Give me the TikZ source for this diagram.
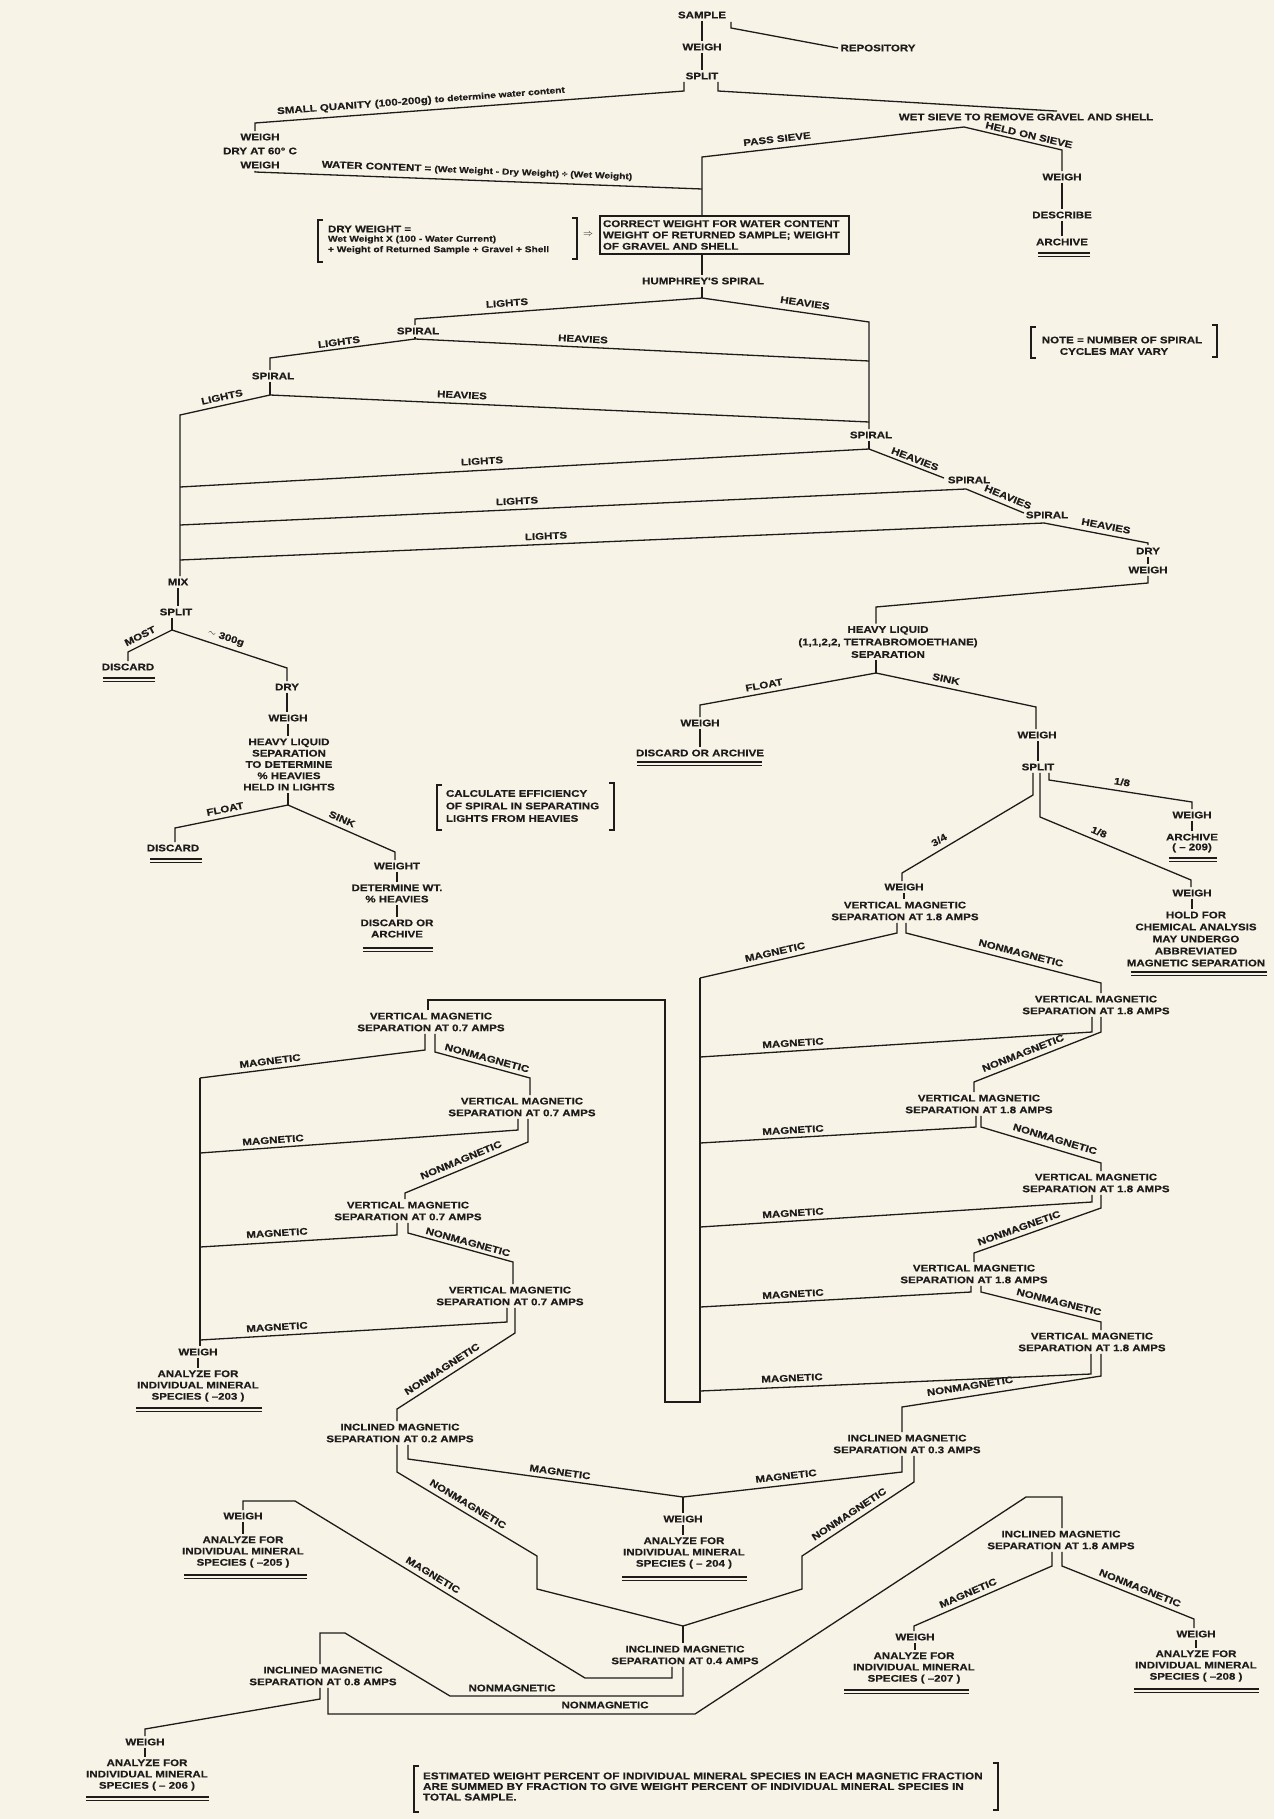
\documentclass[tikz,border=0pt]{standalone}
\usepackage{fontspec}
\newfontfamily\labf{Liberation Sans}[FakeStretch=1.2, BoldFeatures={FakeBold=0.4}]
\definecolor{ink}{HTML}{1E1C1B}
\definecolor{paper}{HTML}{F7F3E7}
\tikzset{
  lab/.style={font=\labf\bfseries\fontsize{9.6}{11.3}\selectfont, text=ink, inner sep=0pt, outer sep=2.5pt, align=center},
  sm/.style={font=\labf\bfseries\fontsize{8.5}{10}\selectfont, text=ink, inner sep=0pt, outer sep=0pt},
  ln/.style={draw=ink, line width=1.3pt},
  ul/.style={draw=ink, line width=1.1pt},
}
\newcommand\dblul[3]{\draw[ul] (#1,#3) -- (#2,#3) (#1,#3+3.6) -- (#2,#3+3.6);}
\newcommand\smf{\fontsize{8.5}{10}\selectfont}
\begin{document}
\begin{tikzpicture}[x=1pt,y=-1pt]
\fill[paper] (0,0) rectangle (1274,1819);
\useasboundingbox (0,0) rectangle (1274,1819);

%================ NODES ================
% top
\node[lab] (sample) at (702,15) {SAMPLE};
\node[lab] (weigh0) at (702,47) {WEIGH};
\node[lab] (split0) at (702,76) {SPLIT};
\node[lab] (repo) at (878,48) {REPOSITORY};
\node[lab, rotate=4.3] (smq) at (421,101) {SMALL QUANITY (100-200g) {\smf to determine water content}};
\node[lab] (wdw) at (260,151) {WEIGH\\[2.7pt]DRY AT 60° C\\[2.7pt]WEIGH};
\node[lab, rotate=-2.2] (wct) at (477,171) {WATER CONTENT = {\smf (Wet Weight - Dry Weight) ÷ (Wet Weight)}};
\node[lab] (wetsieve) at (1026,117) {WET SIEVE TO REMOVE GRAVEL AND SHELL};
\node[lab, rotate=6.5] (tps) at (777,139) {PASS SIEVE};
\node[lab, rotate=-13.2] (ths) at (1029,135) {HELD ON SIEVE};
\node[lab] (weighH) at (1062,177) {WEIGH};
\node[lab] (describe) at (1062,215) {DESCRIBE};
\node[lab] (archH) at (1062,242) {ARCHIVE};
\node[lab, outer sep=0pt, anchor=west] (dw1) at (328,229) {DRY WEIGHT =};
\node[sm, anchor=west] (dw2) at (328,239.5) {Wet Weight X (100 - Water Current)};
\node[sm, anchor=west] (dw3) at (328,250) {+ Weight of Returned Sample + Gravel + Shell};
\node[lab] (arr) at (588,235) {$\Rightarrow$};
\node[lab, draw=ink, line width=1.3pt, outer sep=0pt, inner sep=3pt, text width=243pt, align=left, minimum height=38pt] (cw) at (724.5,235) {CORRECT WEIGHT FOR WATER CONTENT\\WEIGHT OF RETURNED SAMPLE; WEIGHT\\OF GRAVEL AND SHELL};
\node[lab] (hum) at (703,281) {HUMPHREY'S SPIRAL};
% spirals
\node[lab] (sp1) at (418,331) {SPIRAL};
\node[lab] (sp2) at (273,376) {SPIRAL};
\node[lab] (sp3) at (871,435) {SPIRAL};
\node[lab] (sp4) at (969,480) {SPIRAL};
\node[lab] (sp5) at (1047,515) {SPIRAL};
\node[lab, rotate=4.2] (t1) at (507,303) {LIGHTS};
\node[lab, rotate=-8.2] (t2) at (805,303) {HEAVIES};
\node[lab, rotate=7.5] (t3) at (339,342) {LIGHTS};
\node[lab, rotate=-2.8] (t4) at (583,339) {HEAVIES};
\node[lab, rotate=-2.6] (t5) at (462,395) {HEAVIES};
\node[lab, rotate=12.5] (t6) at (222,397) {LIGHTS};
\node[lab, rotate=3.2] (t7) at (482,461) {LIGHTS};
\node[lab, rotate=-21.1] (t8) at (915,459) {HEAVIES};
\node[lab, rotate=2.6] (t9) at (517,501) {LIGHTS};
\node[lab, rotate=-22.5] (t10) at (1008,497) {HEAVIES};
\node[lab, rotate=2.5] (t11) at (546,536) {LIGHTS};
\node[lab, rotate=-10.9] (t12) at (1106,526) {HEAVIES};
\node[lab] (note) at (1122,340) {NOTE = NUMBER OF SPIRAL};
\node[lab] (note2) at (1114,351.5) {CYCLES MAY VARY};
\node[lab] (dry) at (1148,551) {DRY};
\node[lab] (weighD) at (1148,570) {WEIGH};
% heavy liquid right
\node[lab] (hlq) at (888,642) {HEAVY LIQUID\\[1.2pt](1,1,2,2, TETRABROMOETHANE)\\[1.2pt]SEPARATION};
\node[lab, rotate=10.3] (t13) at (764,685) {FLOAT};
\node[lab, rotate=-12.1] (t14) at (946,679) {SINK};
\node[lab] (weighF) at (700,723) {WEIGH};
\node[lab] (doa) at (700,753) {DISCARD OR ARCHIVE};
\node[lab] (weighS) at (1037,735) {WEIGH};
\node[lab] (split2) at (1038,767) {SPLIT};
\node[lab, rotate=30.6] (t15) at (939,840) {3/4};
\node[lab, rotate=-22.5] (t16) at (1099,832) {1/8};
\node[lab, rotate=-8.7] (t17) at (1122,782) {1/8};
\node[lab] (weighA) at (1192,815) {WEIGH};
\node[lab] (archA) at (1192,843) {ARCHIVE\\[-1.5pt]( – 209)};
\node[lab] (weighHo) at (1192,893) {WEIGH};
\node[lab] (hold) at (1196,939) {HOLD FOR\\[0.7pt]CHEMICAL ANALYSIS\\[0.7pt]MAY UNDERGO\\[0.7pt]ABBREVIATED\\[0.7pt]MAGNETIC SEPARATION};
\node[lab] (weighV) at (904,887) {WEIGH};
% vertical 1.8 chain
\node[lab] (vm1) at (905,911) {VERTICAL MAGNETIC\\[0.5pt]SEPARATION AT 1.8 AMPS};
\node[lab] (vm2) at (1096,1005) {VERTICAL MAGNETIC\\[0.5pt]SEPARATION AT 1.8 AMPS};
\node[lab] (vm3) at (979,1104) {VERTICAL MAGNETIC\\[0.5pt]SEPARATION AT 1.8 AMPS};
\node[lab] (vm4) at (1096,1183) {VERTICAL MAGNETIC\\[0.5pt]SEPARATION AT 1.8 AMPS};
\node[lab] (vm5) at (974,1274) {VERTICAL MAGNETIC\\[0.5pt]SEPARATION AT 1.8 AMPS};
\node[lab] (vm6) at (1092,1342) {VERTICAL MAGNETIC\\[0.5pt]SEPARATION AT 1.8 AMPS};
\node[lab, rotate=12.9] (t18) at (775,952) {MAGNETIC};
\node[lab, rotate=-14.4] (t19) at (1021,953) {NONMAGNETIC};
\node[lab, rotate=3.6] (t20) at (793,1043) {MAGNETIC};
\node[lab, rotate=21.5] (t21) at (1023,1053) {NONMAGNETIC};
\node[lab, rotate=3.3] (t22) at (793,1130) {MAGNETIC};
\node[lab, rotate=-16.7] (t23) at (1055,1139) {NONMAGNETIC};
\node[lab, rotate=3.6] (t24) at (793,1213) {MAGNETIC};
\node[lab, rotate=19.5] (t25) at (1019,1228) {NONMAGNETIC};
\node[lab, rotate=3.2] (t26) at (793,1294) {MAGNETIC};
\node[lab, rotate=-14] (t27) at (1059,1302) {NONMAGNETIC};
\node[lab, rotate=2.5] (t28) at (792,1378) {MAGNETIC};
\node[lab, rotate=8.9] (t29) at (970,1386) {NONMAGNETIC};
% vertical 0.7 chain
\node[lab] (va) at (431,1022) {VERTICAL MAGNETIC\\[0.5pt]SEPARATION AT 0.7 AMPS};
\node[lab] (vb) at (522,1107) {VERTICAL MAGNETIC\\[0.5pt]SEPARATION AT 0.7 AMPS};
\node[lab] (vc) at (408,1211) {VERTICAL MAGNETIC\\[0.5pt]SEPARATION AT 0.7 AMPS};
\node[lab] (vd) at (510,1296) {VERTICAL MAGNETIC\\[0.5pt]SEPARATION AT 0.7 AMPS};
\node[lab, rotate=7.1] (t30) at (270,1061) {MAGNETIC};
\node[lab, rotate=-15.3] (t31) at (487,1058) {NONMAGNETIC};
\node[lab, rotate=4.1] (t32) at (273,1140) {MAGNETIC};
\node[lab, rotate=22.5] (t33) at (461,1160) {NONMAGNETIC};
\node[lab, rotate=3.5] (t34) at (277,1233) {MAGNETIC};
\node[lab, rotate=-15.4] (t35) at (468,1242) {NONMAGNETIC};
\node[lab, rotate=3.4] (t36) at (277,1327) {MAGNETIC};
\node[lab, rotate=32.8] (t37) at (442,1369) {NONMAGNETIC};
\node[lab] (weighL) at (198,1352) {WEIGH};
\node[lab] (an203) at (198,1386) {ANALYZE FOR\\INDIVIDUAL MINERAL\\SPECIES ( –203 )};
% inclined
\node[lab] (inc2) at (400,1433) {INCLINED MAGNETIC\\[0.5pt]SEPARATION AT 0.2 AMPS};
\node[lab] (inc3) at (907,1444) {INCLINED MAGNETIC\\[0.5pt]SEPARATION AT 0.3 AMPS};
\node[lab, rotate=-7.9] (t38) at (560,1472) {MAGNETIC};
\node[lab, rotate=-31] (t39) at (468,1504) {NONMAGNETIC};
\node[lab, rotate=6.5] (t40) at (786,1476) {MAGNETIC};
\node[lab, rotate=33.5] (t41) at (849,1514) {NONMAGNETIC};
\node[lab] (weigh204) at (683,1519) {WEIGH};
\node[lab] (an204) at (684,1553) {ANALYZE FOR\\INDIVIDUAL MINERAL\\SPECIES ( – 204 )};
\node[lab] (inc4) at (685,1655) {INCLINED MAGNETIC\\[0.5pt]SEPARATION AT 0.4 AMPS};
\node[lab, rotate=-31.4] (t42) at (433,1575) {MAGNETIC};
\node[lab] (t43) at (512,1688) {NONMAGNETIC};
\node[lab] (weigh205) at (243,1516) {WEIGH};
\node[lab] (an205) at (243,1552) {ANALYZE FOR\\INDIVIDUAL MINERAL\\SPECIES ( –205 )};
\node[lab] (inc8) at (323,1676) {INCLINED MAGNETIC\\[0.5pt]SEPARATION AT 0.8 AMPS};
\node[lab] (t44) at (605,1705) {NONMAGNETIC};
\node[lab] (weigh206) at (145,1742) {WEIGH};
\node[lab] (an206) at (147,1775) {ANALYZE FOR\\INDIVIDUAL MINERAL\\SPECIES ( – 206 )};
\node[lab] (inc18) at (1061,1540) {INCLINED MAGNETIC\\[0.5pt]SEPARATION AT 1.8 AMPS};
\node[lab, rotate=23.5] (t45) at (968,1593) {MAGNETIC};
\node[lab, rotate=-21.9] (t46) at (1140,1588) {NONMAGNETIC};
\node[lab] (weigh207) at (915,1637) {WEIGH};
\node[lab] (an207) at (914,1668) {ANALYZE FOR\\INDIVIDUAL MINERAL\\SPECIES ( –207 )};
\node[lab] (weigh208) at (1196,1634) {WEIGH};
\node[lab] (an208) at (1196,1666) {ANALYZE FOR\\INDIVIDUAL MINERAL\\SPECIES ( –208 )};
% left mid section
\node[lab] (mix) at (178,582) {MIX};
\node[lab] (splitL) at (176,612) {SPLIT};
\node[lab, rotate=26.6] (t47) at (140,636) {MOST};
\node[lab, rotate=-18.3] (t48) at (226,638) {$\sim$ 300g};
\node[lab] (disc1) at (128,667) {DISCARD};
\node[lab] (dry2) at (287,687) {DRY};
\node[lab] (weigh2) at (288,718) {WEIGH};
\node[lab] (hl2) at (289,764.5) {HEAVY LIQUID\\SEPARATION\\TO DETERMINE\\\% HEAVIES\\HELD IN LIGHTS};
\node[lab, rotate=11.5] (t49) at (225,809) {FLOAT};
\node[lab, rotate=-23.7] (t50) at (342,819) {SINK};
\node[lab] (disc2) at (173,848) {DISCARD};
\node[lab] (weightW) at (397,866) {WEIGHT};
\node[lab] (detwt) at (397,893.5) {DETERMINE WT.\\\% HEAVIES};
\node[lab] (disar) at (397,928.5) {DISCARD OR\\ARCHIVE};
\node[lab, anchor=west, align=left, outer sep=0pt] (calc) at (446,806) {CALCULATE EFFICIENCY\\[1.2pt]OF SPIRAL IN SEPARATING\\[1.2pt]LIGHTS FROM HEAVIES};
\node[lab, anchor=west, align=left, outer sep=0pt, font=\labf\bfseries\fontsize{9.8}{10.6}\selectfont] (est) at (423,1786.5) {ESTIMATED WEIGHT PERCENT OF INDIVIDUAL MINERAL SPECIES IN EACH MAGNETIC FRACTION\\ARE SUMMED BY FRACTION TO GIVE WEIGHT PERCENT OF INDIVIDUAL MINERAL SPECIES IN\\TOTAL SAMPLE.};

%================ COORDINATES ================
\coordinate (rp1) at (731,22); \coordinate (rp2) at (731,28);
\coordinate (sl) at (684,91); \coordinate (wq) at (255,123);
\coordinate (sr) at (718,91); \coordinate (ws0) at (1057,108);
\coordinate (wc1) at (255,172); \coordinate (wc2) at (702,189);
\coordinate (wsj) at (964,127); \coordinate (ps) at (702,157); \coordinate (hs) at (1062,150);
\coordinate (cwb) at (702,254);
\coordinate (jh) at (702,298); \coordinate (s1t) at (415,319);
\coordinate (rv1) at (869,322); \coordinate (rv2) at (869,361); \coordinate (rv3) at (869,422);
\coordinate (j1) at (415,339); \coordinate (s2t) at (270,358);
\coordinate (j2) at (270,395); \coordinate (lv1) at (180,415);
\coordinate (j3) at (869,449); \coordinate (la) at (180,487); \coordinate (h4) at (944,478);
\coordinate (j4) at (966,489); \coordinate (lb) at (180,525); \coordinate (h5) at (1024,513);
\coordinate (j5) at (1044,523); \coordinate (lc) at (180,560); \coordinate (dt) at (1148,543);
\coordinate (wd1) at (1148,583); \coordinate (hl1) at (876,607);
\coordinate (jhl) at (876,673); \coordinate (fl) at (700,705); \coordinate (sk) at (1036,707);
\coordinate (ssx) at (1038,750);
\coordinate (a1) at (1033,795); \coordinate (a2) at (902,873);
\coordinate (b1) at (1040,817); \coordinate (b2) at (1191,880);
\coordinate (c1) at (1049,780); \coordinate (c2) at (1192,802);
\coordinate (v1a) at (897,933); \coordinate (v1b) at (906,933); \coordinate (m1) at (700,978); \coordinate (v1c) at (1101,983);
\coordinate (v2a) at (1092,1032); \coordinate (v2b) at (1101,1032); \coordinate (m2) at (700,1057); \coordinate (v2c) at (974,1082);
\coordinate (v3a) at (976,1127); \coordinate (v3b) at (981,1127); \coordinate (m3) at (700,1143); \coordinate (v3c) at (1101,1163);
\coordinate (v4a) at (1092,1202); \coordinate (v4b) at (1101,1208); \coordinate (m4) at (700,1227); \coordinate (v4c) at (974,1253);
\coordinate (v5a) at (971,1292); \coordinate (v5b) at (981,1292); \coordinate (m5) at (700,1307); \coordinate (v5c) at (1101,1322);
\coordinate (v6a) at (1091,1374); \coordinate (v6b) at (1101,1376); \coordinate (m6) at (700,1391); \coordinate (v6c) at (902,1407);
\coordinate (cb1) at (700,1402); \coordinate (cb2) at (665,1402); \coordinate (ct2) at (665,1000); \coordinate (ct1) at (428,1000);
\coordinate (a7l) at (425,1050); \coordinate (a7r) at (435,1052); \coordinate (ml1) at (200,1078); \coordinate (a7c) at (530,1078);
\coordinate (b7l) at (518,1130); \coordinate (b7r) at (528,1142); \coordinate (ml2) at (200,1153); \coordinate (b7c) at (405,1193);
\coordinate (c7l) at (397,1235); \coordinate (c7r) at (408,1233); \coordinate (ml3) at (200,1247); \coordinate (c7c) at (513,1262);
\coordinate (d7l) at (507,1322); \coordinate (d7r) at (515,1333); \coordinate (ml4) at (200,1340); \coordinate (d7c) at (397,1409);
\coordinate (i2l) at (397,1472); \coordinate (i2r) at (408,1459); \coordinate (i2m) at (537,1556); \coordinate (i2n) at (537,1589);
\coordinate (j204) at (683,1497); \coordinate (j04) at (683,1626);
\coordinate (i3l) at (902,1472); \coordinate (i3r) at (914,1482); \coordinate (i3m) at (802,1556); \coordinate (i3n) at (802,1589);
\coordinate (i4l) at (672,1678); \coordinate (i4la) at (585,1678); \coordinate (i4lb) at (295,1501); \coordinate (i4lc) at (243,1501);
\coordinate (i4r) at (683,1696); \coordinate (i4ra) at (450,1696); \coordinate (i4rb) at (345,1633); \coordinate (i4rc) at (320,1633);
\coordinate (i8l) at (320,1699); \coordinate (i8la) at (145,1729);
\coordinate (i8r) at (328,1714); \coordinate (i8ra) at (695,1714); \coordinate (i8rb) at (1026,1497); \coordinate (i8rc) at (1062,1497);
\coordinate (i18l) at (1052,1566); \coordinate (i18la) at (914,1626);
\coordinate (i18r) at (1062,1566); \coordinate (i18ra) at (1194,1619);
\coordinate (jm) at (172,630); \coordinate (mo) at (128,652); \coordinate (g3) at (287,668);
\coordinate (jf) at (288,805); \coordinate (fl2) at (175,828); \coordinate (sk2) at (395,852);

%================ CONNECTORS ================
\draw[ln] (sample.south) -- (weigh0.north);
\draw[ln] (weigh0.south) -- (split0.north);
\draw[ln] (rp1) -- (rp2) -- (repo.west);
\draw[ln] (sl |- split0.south) -- (sl) -- (wq) -- (wq |- wdw.north);
\draw[ln] (sr |- split0.south) -- (sr) -- (ws0 |- wetsieve.north);
\draw[ln] (wc1 |- wdw.south) -- (wc1) -- (wc2);
\draw[ln] (wsj) -- (ps) -- (ps |- cw.north);
\draw[ln] (wsj) -- (hs) -- (hs |- weighH.north);
\draw[ln] (weighH.south) -- (describe.north);
\draw[ln] (describe.south) -- (archH.north);
\dblul{1038}{1090}{253}
\draw[ln] (323,220) -- (318,220) -- (318,262) -- (323,262);
\draw[ln] (572,218) -- (577,218) -- (577,259) -- (572,259);
\draw[ln] (cwb |- cw.south) -- (cwb |- hum.north);
\draw[ln] (jh |- hum.south) -- (jh);
\draw[ln] (jh) -- (s1t) -- (s1t |- sp1.north);
\draw[ln] (jh) -- (rv1) -- (rv1 |- sp3.north);
\draw[ln] (j1 |- sp1.south) -- (j1);
\draw[ln] (j1) -- (s2t) -- (s2t |- sp2.north);
\draw[ln] (j1) -- (rv2);
\draw[ln] (j2 |- sp2.south) -- (j2);
\draw[ln] (j2) -- (rv3);
\draw[ln] (j2) -- (lv1) -- (lv1 |- mix.north);
\draw[ln] (j3 |- sp3.south) -- (j3);
\draw[ln] (j3) -- (la);
\draw[ln] (j3) -- (h4);
\draw[ln] (j4) -- (lb);
\draw[ln] (j4) -- (h5);
\draw[ln] (j5) -- (lc);
\draw[ln] (j5) -- (dt) -- (dt |- dry.north);
\draw[ln] (1036,327) -- (1031,327) -- (1031,358) -- (1036,358);
\draw[ln] (1212,325) -- (1217,325) -- (1217,357) -- (1212,357);
\draw[ln] (dry.south) -- (weighD.north);
\draw[ln] (wd1 |- weighD.south) -- (wd1) -- (hl1) -- (hl1 |- hlq.north);
\draw[ln] (jhl |- hlq.south) -- (jhl);
\draw[ln] (jhl) -- (fl) -- (fl |- weighF.north);
\draw[ln] (jhl) -- (sk) -- (sk |- weighS.north);
\draw[ln] (weighF.south) -- (doa.north);
\dblul{637}{762}{762}
\draw[ln] (ssx |- weighS.south) -- (ssx |- split2.north);
\draw[ln] (a1 |- split2.south) -- (a1) -- (a2) -- (a2 |- weighV.north);
\draw[ln] (b1 |- split2.south) -- (b1) -- (b2) -- (b2 |- weighHo.north);
\draw[ln] (c1 |- split2.south) -- (c1) -- (c2) -- (c2 |- weighA.north);
\draw[ln] (weighA.south) -- (archA.north);
\dblul{1169}{1217}{858}
\draw[ln] (weighHo.south) -- (weighHo.south |- hold.north);
\dblul{1131}{1267}{972}
\draw[ln] (weighV.south) -- (weighV.south |- vm1.north);
% 1.8 chain
\draw[ln] (v1a |- vm1.south) -- (v1a) -- (m1);
\draw[ln] (v1b |- vm1.south) -- (v1b) -- (v1c) -- (v1c |- vm2.north);
\draw[ln] (v2a |- vm2.south) -- (v2a) -- (m2);
\draw[ln] (v2b |- vm2.south) -- (v2b) -- (v2c) -- (v2c |- vm3.north);
\draw[ln] (v3a |- vm3.south) -- (v3a) -- (m3);
\draw[ln] (v3b |- vm3.south) -- (v3b) -- (v3c) -- (v3c |- vm4.north);
\draw[ln] (v4a |- vm4.south) -- (v4a) -- (m4);
\draw[ln] (v4b |- vm4.south) -- (v4b) -- (v4c) -- (v4c |- vm5.north);
\draw[ln] (v5a |- vm5.south) -- (v5a) -- (m5);
\draw[ln] (v5b |- vm5.south) -- (v5b) -- (v5c) -- (v5c |- vm6.north);
\draw[ln] (v6a |- vm6.south) -- (v6a) -- (m6);
\draw[ln] (v6b |- vm6.south) -- (v6b) -- (v6c) -- (v6c |- inc3.north);
\draw[ln] (m1) -- (cb1) -- (cb2) -- (ct2) -- (ct1) -- (ct1 |- va.north);
% 0.7 chain
\draw[ln] (a7l |- va.south) -- (a7l) -- (ml1);
\draw[ln] (a7r |- va.south) -- (a7r) -- (a7c) -- (a7c |- vb.north);
\draw[ln] (b7l |- vb.south) -- (b7l) -- (ml2);
\draw[ln] (b7r |- vb.south) -- (b7r) -- (b7c) -- (b7c |- vc.north);
\draw[ln] (c7l |- vc.south) -- (c7l) -- (ml3);
\draw[ln] (c7r |- vc.south) -- (c7r) -- (c7c) -- (c7c |- vd.north);
\draw[ln] (d7l |- vd.south) -- (d7l) -- (ml4);
\draw[ln] (d7r |- vd.south) -- (d7r) -- (d7c) -- (d7c |- inc2.north);
\draw[ln] (ml1) -- (ml1 |- weighL.north);
\draw[ln] (weighL.south) -- (weighL.south |- an203.north);
\dblul{136}{262}{1408}
% inclined
\draw[ln] (i2r |- inc2.south) -- (i2r) -- (j204);
\draw[ln] (i2l |- inc2.south) -- (i2l) -- (i2m) -- (i2n) -- (j04);
\draw[ln] (i3l |- inc3.south) -- (i3l) -- (j204);
\draw[ln] (i3r |- inc3.south) -- (i3r) -- (i3m) -- (i3n) -- (j04);
\draw[ln] (j204) -- (j204 |- weigh204.north);
\draw[ln] (weigh204.south) -- (weigh204.south |- an204.north);
\dblul{622}{747}{1577}
\draw[ln] (j04) -- (j04 |- inc4.north);
\draw[ln] (i4l |- inc4.south) -- (i4l) -- (i4la) -- (i4lb) -- (i4lc) -- (i4lc |- weigh205.north);
\draw[ln] (i4r |- inc4.south) -- (i4r) -- (i4ra) -- (i4rb) -- (i4rc) -- (i4rc |- inc8.north);
\draw[ln] (weigh205.south) -- (weigh205.south |- an205.north);
\dblul{184}{307}{1575}
\draw[ln] (i8l |- inc8.south) -- (i8l) -- (i8la) -- (i8la |- weigh206.north);
\draw[ln] (i8r |- inc8.south) -- (i8r) -- (i8ra) -- (i8rb) -- (i8rc) -- (i8rc |- inc18.north);
\draw[ln] (weigh206.south) -- (weigh206.south |- an206.north);
\dblul{86}{209}{1797}
\draw[ln] (i18l |- inc18.south) -- (i18l) -- (i18la) -- (i18la |- weigh207.north);
\draw[ln] (i18r |- inc18.south) -- (i18r) -- (i18ra) -- (i18ra |- weigh208.north);
\draw[ln] (weigh207.south) -- (weigh207.south |- an207.north);
\dblul{844}{969}{1690}
\draw[ln] (weigh208.south) -- (weigh208.south |- an208.north);
\dblul{1134}{1259}{1689}
% left middle
\draw[ln] (mix.south) -- (mix.south |- splitL.north);
\draw[ln] (jm |- splitL.south) -- (jm);
\draw[ln] (jm) -- (mo) -- (mo |- disc1.north);
\draw[ln] (jm) -- (g3) -- (g3 |- dry2.north);
\dblul{103}{155}{678}
\draw[ln] (dry2.south) -- (dry2.south |- weigh2.north);
\draw[ln] (weigh2.south) -- (weigh2.south |- hl2.north);
\draw[ln] (jf |- hl2.south) -- (jf);
\draw[ln] (jf) -- (fl2) -- (fl2 |- disc2.north);
\draw[ln] (jf) -- (sk2) -- (sk2 |- weightW.north);
\dblul{150}{202}{859}
\draw[ln] (weightW.south) -- (weightW.south |- detwt.north);
\draw[ln] (detwt.south) -- (detwt.south |- disar.north);
\dblul{363}{433}{948}
\draw[ln] (442,785) -- (437,785) -- (437,830) -- (442,830);
\draw[ln] (609,783) -- (614,783) -- (614,830) -- (609,830);
\draw[ln] (419,1766) -- (414,1766) -- (414,1812) -- (419,1812);
\draw[ln] (993,1763) -- (998,1763) -- (998,1810) -- (993,1810);
\end{tikzpicture}
\end{document}
